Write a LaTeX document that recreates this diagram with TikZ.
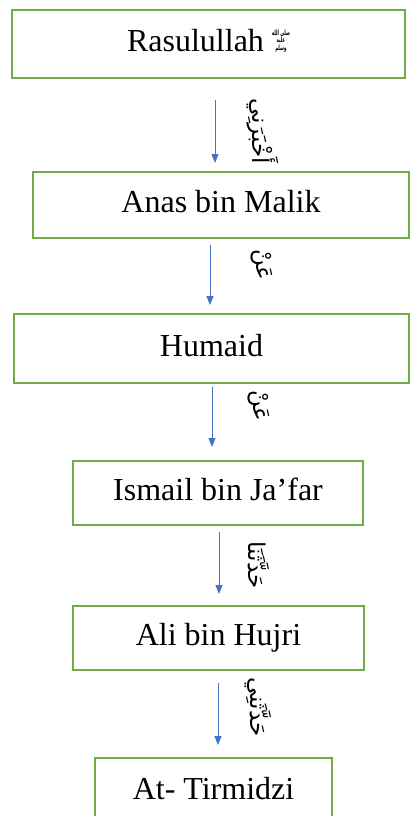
\documentclass[tikz,border=0pt]{standalone}
\usepackage{fontspec}
\setmainfont{Liberation Serif}
\newfontfamily\arabicfont[Script=Arabic]{DejaVu Sans}
\TeXXeTstate=1
\usetikzlibrary{arrows.meta}
\definecolor{boxgreen}{HTML}{70AD47}
\definecolor{arrblue}{HTML}{4472C4}
\newcommand{\salawatmark}{\resizebox*{18pt}{23pt}{\arabicfont\bfseries\fontsize{8}{8}\selectfont\begin{tabular}[b]{@{}c@{}}\beginR صلى الله\endR\\\beginR عليه\endR\\\beginR وسلم\endR\end{tabular}}}
\begin{document}
\begin{tikzpicture}[x=1pt,y=-1pt,
  namebox/.style={draw=boxgreen, line width=2.5pt, fill=white, inner sep=0pt,
    font=\fontsize{32}{36}\selectfont, text height=22pt, text depth=7pt},
  flow/.style={draw=arrblue, line width=1pt, -{Triangle[length=9pt,width=7pt]}},
  arlabel/.style={rotate=-90, inner sep=0pt, font=\arabicfont\fontsize{23}{26}\selectfont}
]
\useasboundingbox (0,0) rectangle (410,816);
\fill[white] (0,0) rectangle (410,816);

\node[namebox, minimum width=393pt, minimum height=68pt] (b1) at (208.5,44) {Rasulullah \raisebox{1pt}{\salawatmark}};
\node[namebox, minimum width=376pt, minimum height=66pt] (b2) at (221,205) {Anas bin Malik};
\node[namebox, minimum width=395pt, minimum height=69pt] (b3) at (211.5,348.5) {Humaid};
\node[namebox, minimum width=290pt, minimum height=64pt] (b4) at (218,493) {Ismail bin Ja’far};
\node[namebox, minimum width=291pt, minimum height=64pt] (b5) at (218.5,638) {Ali bin Hujri};
\node[namebox, minimum width=237pt, minimum height=68pt] (b6) at (213.5,792) {At- Tirmidzi};

\coordinate (a1s) at (215,100); \coordinate (a1e) at (215,163);
\coordinate (a2s) at (210,245); \coordinate (a2e) at (210,305);
\coordinate (a3s) at (212,387); \coordinate (a3e) at (212,447);
\coordinate (a4s) at (219,532); \coordinate (a4e) at (219,594);
\coordinate (a5s) at (218,683); \coordinate (a5e) at (218,745);
\draw[flow] (a1s) -- (a1e);
\draw[flow] (a2s) -- (a2e);
\draw[flow] (a3s) -- (a3e);
\draw[flow] (a4s) -- (a4e);
\draw[flow] (a5s) -- (a5e);

\node[arlabel] (l1) at (263,131) {\beginR أَخْبَرَنِي\endR};
\node[arlabel] (l2) at (262,265) {\beginR عَنْ\endR};
\node[arlabel] (l3) at (259,406) {\beginR عَنْ\endR};
\node[arlabel] (l4) at (259,565) {\beginR حَدَّثَنَا\endR};
\node[arlabel] (l5) at (258,707) {\beginR حَدَّثَنِي\endR};
\end{tikzpicture}
\end{document}
